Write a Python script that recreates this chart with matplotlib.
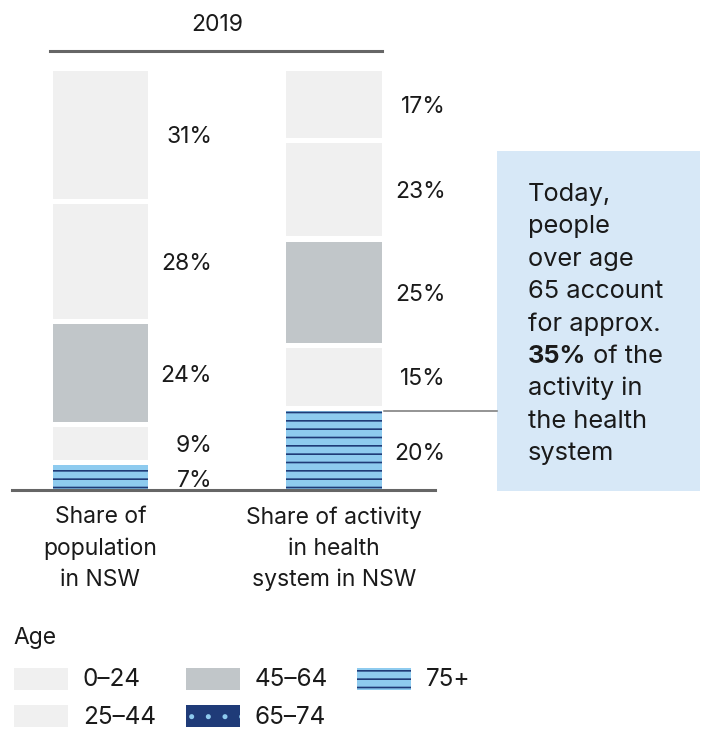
import matplotlib
matplotlib.use('Agg')
import matplotlib.pyplot as plt
from matplotlib.patches import Rectangle
from matplotlib.lines import Line2D

plt.rcParams['font.family'] = ['Inter', 'DejaVu Sans']
plt.rcParams['hatch.linewidth'] = 1.2

# ---------------- data ----------------
year = '2019'
age_groups = ['75+', '65–74', '45–64', '25–44', '0–24']          # bottom -> top
bar_names = ['Share of\npopulation\nin NSW', 'Share of activity\nin health\nsystem in NSW']
population_share = [6.3, 9.1, 24.4, 28.6, 31.6]
population_labels = ['7%', '9%', '24%', '28%', '31%']
activity_share = [19.2, 15.0, 25.2, 23.4, 17.2]
activity_labels = ['20%', '15%', '25%', '23%', '17%']
legend_title = 'Age'
legend_order = ['0–24', '45–64', '75+', '25–44', '65–74']
callout_lines = ['Today,', 'people', 'over age', '65 account', 'for approx.',
                 None, 'activity in', 'the health', 'system']
callout_bold = '35%'
callout_rest = ' of the'

# ---------------- styles ----------------
LIGHT = '#f0f0f0'
MID = '#c1c6c9'
SKY = '#8ecbef'
NAVY = '#1f3b78'
BOX = '#d7e8f7'
TXT = '#1a1a1a'
RULE = '#666666'

bar_style = {
    '0–24': dict(color=LIGHT, hatch=None, edge=LIGHT),
    '25–44': dict(color=LIGHT, hatch=None, edge=LIGHT),
    '45–64': dict(color=MID, hatch=None, edge=MID),
    '65–74': dict(color=LIGHT, hatch=None, edge=LIGHT),
    '75+': dict(color=SKY, hatch='--', edge=NAVY),
}
legend_style = dict(bar_style)
legend_style['65–74'] = dict(color=NAVY, hatch='.', edge=SKY)

W, H = 705, 730


def fx(x):
    return x / W


def fy(y):
    return 1 - y / H


fig = plt.figure(figsize=(W / 100, H / 100), dpi=100)
ax = fig.add_axes([0, 0, 1, 1])
ax.set_xlim(-0.4304, 2.5889)
ax.set_ylim(-56.53, 116.86)
ax.axis('off')

gap = 1.3
width = 0.407
for i, (shares, labels) in enumerate([(population_share, population_labels),
                                      (activity_share, activity_labels)]):
    cum = 0.0
    for j, (grp, h, lab) in enumerate(zip(age_groups, shares, labels)):
        b = cum + (gap if j > 0 else 0)
        st = bar_style[grp]
        ax.bar(i, cum + h - b, bottom=b, width=width, color=st['color'],
               hatch=st['hatch'], edgecolor=st['edge'], linewidth=0)
        ax.text(i + 0.478, (b + cum + h) / 2 - 0.6, lab, ha='right', va='center',
                fontsize=16.5, color=TXT)
        cum += h
    ax.text(i, -3.4, bar_names[i], ha='center', va='top', fontsize=16.5,
            color=TXT, linespacing=1.52)

# rules
fig.add_artist(Line2D([fx(12), fx(435)], [fy(490), fy(490)], color=RULE, lw=2.2))
fig.add_artist(Line2D([fx(50), fx(382)], [fy(51), fy(51)], color=RULE, lw=2.2))
fig.add_artist(Line2D([fx(384), fx(497)], [fy(411), fy(411)], color='#777777', lw=1.1))
fig.text(fx(217), fy(25), year, ha='center', va='center', fontsize=16.5, color=TXT)

# callout box
fig.add_artist(Rectangle((fx(497), fy(491)), fx(700) - fx(497), (491 - 151) / H,
                         transform=fig.transFigure, facecolor=BOX, edgecolor='none'))
renderer = fig.canvas.get_renderer()
for k, line in enumerate(callout_lines):
    yb = fy(201 + k * 32.4)
    if line is None:
        t = fig.text(fx(528), yb, callout_bold, ha='left', va='baseline',
                     fontsize=18.3, fontweight='bold', color=TXT)
        bb = t.get_window_extent(renderer)
        fig.text(bb.x1 / W, yb, callout_rest, ha='left', va='baseline',
                 fontsize=18.3, color=TXT)
    else:
        fig.text(fx(528), yb, line, ha='left', va='baseline', fontsize=18.3, color=TXT)

# legend
fig.text(fx(13), fy(638), legend_title, ha='left', va='center', fontsize=16.5, color=TXT)
xs = [14, 186, 357]
ys = [679, 716]
for n, grp in enumerate(legend_order):
    r, c = divmod(n, 3)
    st = legend_style[grp]
    fig.add_artist(Rectangle((fx(xs[c]), fy(ys[r] + 11)), 54 / W, 22 / H,
                             transform=fig.transFigure, facecolor=st['color'],
                             hatch=st['hatch'], edgecolor=st['edge'], linewidth=0))
    fig.text(fx(xs[c] + 69), fy(ys[r] + 1), grp, ha='left', va='center',
             fontsize=17.5, color=TXT)

fig.savefig('out.png', dpi=100)
